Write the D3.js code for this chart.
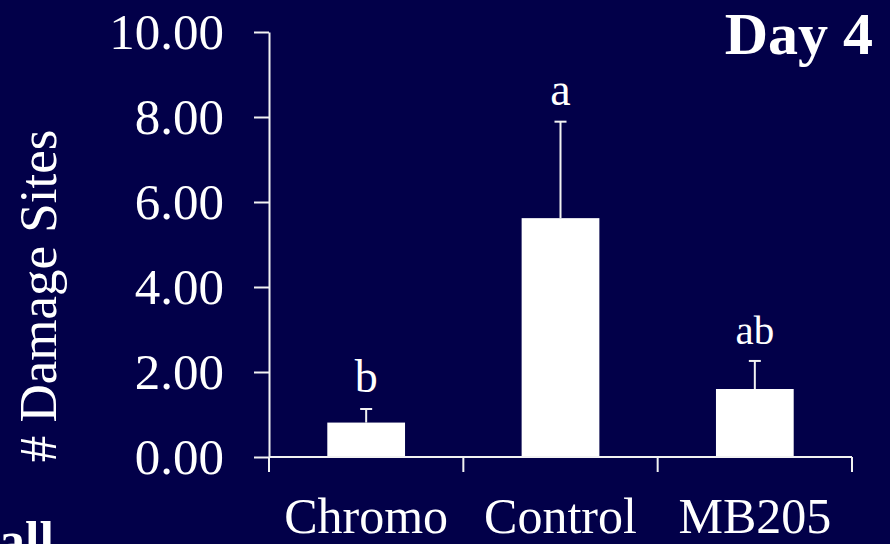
<!DOCTYPE html>
<html>
<head>
<meta charset="utf-8">
<script src="https://cdn.jsdelivr.net/npm/d3@7/dist/d3.min.js"></script>
<style>
  html, body { margin: 0; padding: 0; background: #020049; }
  svg { display: block; }
  text { font-family: "Liberation Serif", "Times New Roman", serif; fill: #ffffff; }
</style>
</head>
<body>
<svg id="chart" width="890" height="544"></svg>
<script>
// Damage sites per treatment on day 4
const categories = ["Chromo", "Control", "MB205"];
const means = [0.81, 5.62, 1.60];
const errorTops = [1.13, 7.89, 2.26];
const groupLetters = ["b", "a", "ab"];
const yTicks = [0, 2, 4, 6, 8, 10];

const svg = d3.select("#chart");
const W = 890, H = 544;

svg.append("rect").attr("width", W).attr("height", H).attr("fill", "#020049");

const x = d3.scaleBand()
  .domain(categories)
  .range([269, 852])
  .paddingInner(0.6)
  .paddingOuter(0.3);

const y = d3.scaleLinear().domain([0, 10]).range([457, 32]);

const stroke = "#f2f2f2";

// Bars
svg.selectAll("rect.bar")
  .data(categories)
  .join("rect")
  .attr("class", "bar")
  .attr("x", d => x(d))
  .attr("width", x.bandwidth())
  .attr("y", (d, i) => y(means[i]))
  .attr("height", (d, i) => y(0) - y(means[i]))
  .attr("fill", "#ffffff");

// Error bars (upper arm with cap)
const capW = 12;
const err = svg.selectAll("g.err").data(categories).join("g").attr("class", "err");
err.append("line")
  .attr("x1", d => x(d) + x.bandwidth() / 2)
  .attr("x2", d => x(d) + x.bandwidth() / 2)
  .attr("y1", (d, i) => y(means[i]))
  .attr("y2", (d, i) => y(errorTops[i]))
  .attr("stroke", stroke).attr("stroke-width", 2);
err.append("line")
  .attr("x1", d => x(d) + x.bandwidth() / 2 - capW / 2)
  .attr("x2", d => x(d) + x.bandwidth() / 2 + capW / 2)
  .attr("y1", (d, i) => y(errorTops[i]))
  .attr("y2", (d, i) => y(errorTops[i]))
  .attr("stroke", stroke).attr("stroke-width", 2);

// Group letters above error bars
svg.selectAll("text.letter")
  .data(categories)
  .join("text")
  .attr("class", "letter")
  .attr("x", d => x(d) + x.bandwidth() / 2)
  .attr("y", (d, i) => y(errorTops[i]) - 17)
  .attr("text-anchor", "middle")
  .attr("font-size", (d, i) => groupLetters[i].length > 1 ? 41 : 46)
  .text((d, i) => groupLetters[i]);

// Y axis
const yAxis = svg.append("g")
  .attr("transform", "translate(269,0)")
  .call(d3.axisLeft(y)
    .tickValues(yTicks)
    .tickFormat(d3.format(".2f"))
    .tickSize(15)
    .tickSizeOuter(0)
    .tickPadding(30));
yAxis.selectAll("path, line").attr("stroke", stroke).attr("stroke-width", 2);
yAxis.selectAll("text")
  .attr("font-size", 51)
  .attr("font-family", "Liberation Serif, Times New Roman, serif")
  .attr("fill", "#ffffff");

// X axis line with boundary ticks
const [x0, x1] = x.range();
svg.append("line")
  .attr("x1", x0).attr("x2", x1)
  .attr("y1", y(0)).attr("y2", y(0))
  .attr("stroke", stroke).attr("stroke-width", 2);
const bounds = d3.range(categories.length + 1).map(i => x0 + i * x.step());
svg.selectAll("line.xtick")
  .data(bounds)
  .join("line")
  .attr("class", "xtick")
  .attr("x1", d => d).attr("x2", d => d)
  .attr("y1", y(0)).attr("y2", y(0) + 15)
  .attr("stroke", stroke).attr("stroke-width", 2);

// Category labels
svg.selectAll("text.cat")
  .data(categories)
  .join("text")
  .attr("class", "cat")
  .attr("x", d => x(d) + x.bandwidth() / 2)
  .attr("y", 533)
  .attr("text-anchor", "middle")
  .attr("font-size", 50)
  .text(d => d);

// Y axis title
svg.append("text")
  .attr("transform", "translate(56,296) rotate(-90)")
  .attr("text-anchor", "middle")
  .attr("font-size", 53)
  .text("# Damage Sites");

// Panel title
svg.append("text")
  .attr("x", 873)
  .attr("y", 54)
  .attr("text-anchor", "end")
  .attr("font-size", 60)
  .attr("font-weight", "bold")
  .text("Day 4");

// Trailing caption fragment at lower left
svg.append("text")
  .attr("x", 54)
  .attr("y", 558)
  .attr("text-anchor", "end")
  .attr("font-size", 52)
  .attr("font-weight", "bold")
  .text("all");
</script>
</body>
</html>
